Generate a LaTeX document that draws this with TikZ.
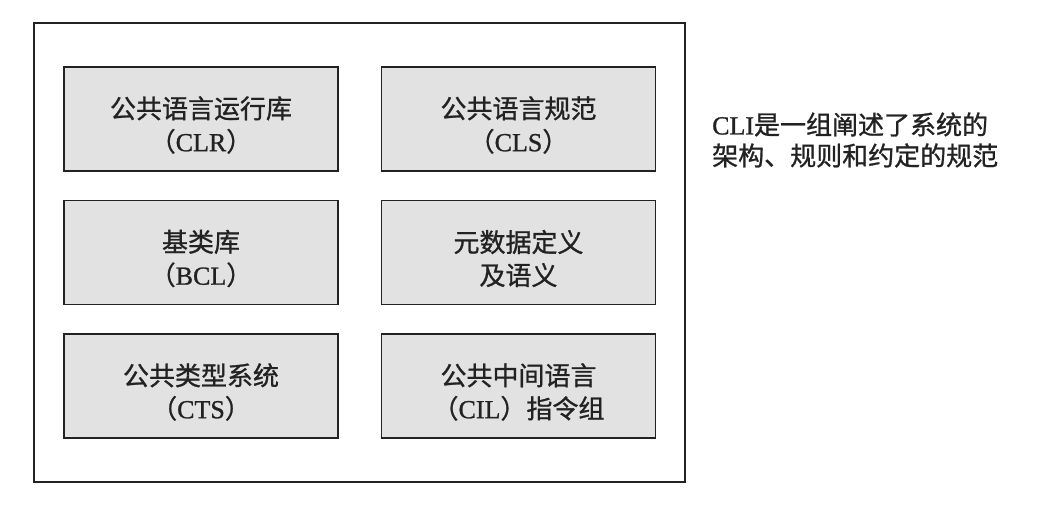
\documentclass[tikz,border=0pt]{standalone}
\usepackage{fontspec}
\setmainfont{Liberation Serif}[FakeBold=1]
\newfontfamily\cjk{Noto Sans CJK SC}[FakeBold=1]
\newcommand{\lp}{{\cjk （}}
\newcommand{\rp}{{\cjk ）}}
\definecolor{boxfill}{HTML}{E2E2E2}
\definecolor{ink}{HTML}{222222}
\tikzset{
  parttext/.style={inner sep=0pt, align=center, text=ink, font=\fontsize{26}{33}\selectfont, yshift=-6pt},
  part/.style={draw=ink, line width=1.4pt, fill=boxfill, minimum width=274pt, minimum height=104pt,
    inner sep=0pt, label={[parttext]center:#1}},
  frame/.style={draw=ink, line width=1.4pt, minimum width=651pt, minimum height=459pt, inner sep=0pt},
  note/.style={anchor=west, align=left, text=ink, inner sep=0pt, font=\fontsize{26}{31}\selectfont}
}
\begin{document}
\begin{tikzpicture}[x=1pt,y=-1pt]
\useasboundingbox (0,0) rectangle (1038,510);
\fill[white] (0,0) rectangle (1038,510);
\node[frame] (outer) at (359.5,252.5) {};
\node[part={{\cjk 公共语言运行库}\\\lp CLR\rp}] (clr) at (201,119) {};
\node[part={{\cjk 公共语言规范}\\\lp CLS\rp}] (cls) at (518.5,119) {};
\node[part={{\cjk 基类库}\\\lp BCL\rp}] (bcl) at (201,252.5) {};
\node[part={{\cjk 元数据定义}\\{\cjk 及语义}}] (meta) at (518.5,252.5) {};
\node[part={{\cjk 公共类型系统}\\\lp CTS\rp}] (cts) at (201,386) {};
\node[part={{\cjk 公共中间语言}\\\lp CIL\rp{\cjk 指令组}}] (cil) at (518.5,386) {};
\node[note] (cli) at (712,140) {CLI{\cjk 是一组阐述了系统的}\\{\cjk 架构、规则和约定的规范}};
\end{tikzpicture}
\end{document}
